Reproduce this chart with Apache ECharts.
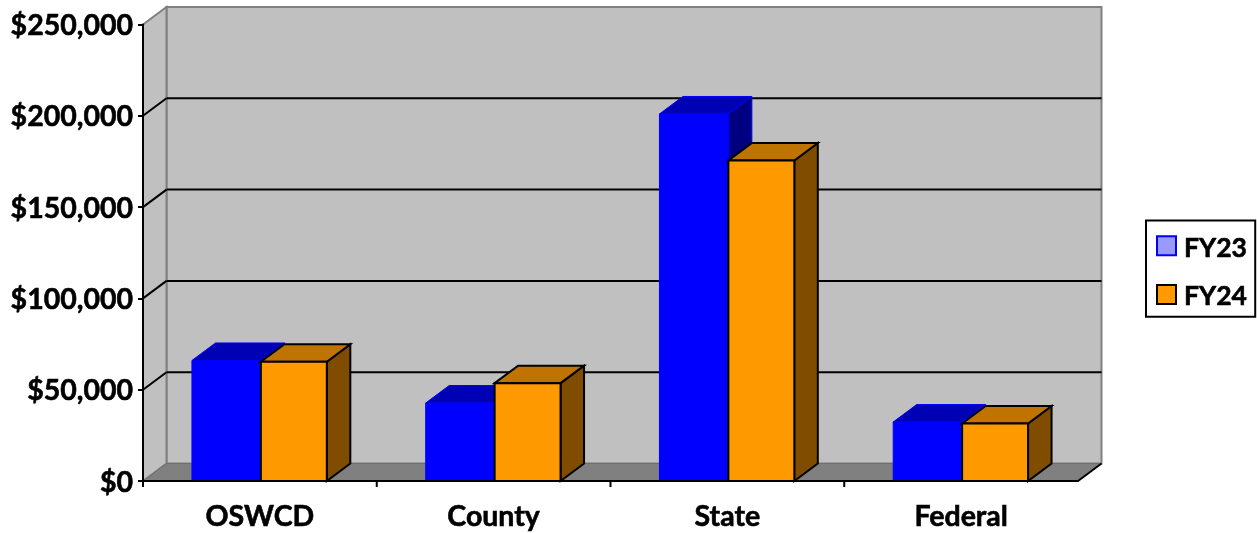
<!DOCTYPE html>
<html><head><meta charset="utf-8">
<style>html,body{margin:0;padding:0;background:#fff}#c{width:1257px;height:533px}</style>
<script src="https://cdn.jsdelivr.net/npm/echarts@6/dist/echarts.min.js"></script>
</head><body><div id="c"></div>
<script>
var categories = ['OSWCD', 'County', 'State', 'Federal'];
var fy23 = [66000, 42700, 201000, 32300];
var fy24 = [65300, 53600, 175500, 31500];
var yTicks = [0, 50000, 100000, 150000, 200000, 250000];

var DX = 23.5, DY = 17.5;

function poly(points, fill, stroke, lw) {
  return { type: 'polygon', shape: { points: points },
    style: { fill: fill, stroke: stroke, lineWidth: lw, lineJoin: 'miter' } };
}
function line(x1, y1, x2, y2, stroke, lw) {
  return { type: 'line', shape: { x1: x1, y1: y1, x2: x2, y2: y2 },
    style: { stroke: stroke, lineWidth: lw } };
}
function frameItem(params, api) {
  var cs = params.coordSys, l = cs.x, r = cs.x + cs.width, t = cs.y, b = cs.y + cs.height;
  var edge = '#808080';
  return { type: 'group', children: [
    poly([[l + DX, t - DY], [r + DX, t - DY], [r + DX, b - DY], [l + DX, b - DY]], '#C0C0C0', edge, 2),
    poly([[l, t], [l + DX, t - DY], [l + DX, b - DY], [l, b]], '#C0C0C0', edge, 2),
    poly([[l, b], [l + DX, b - DY], [r + DX, b - DY], [r, b]], '#808080', '#6e6e6e', 1),
    line(r, b, r + DX, b - DY, '#000', 2)
  ]};
}
function gridItem(params, api) {
  var cs = params.coordSys, p = api.coord([0, api.value(1)]);
  var y = p[1], l = cs.x, r = cs.x + cs.width;
  return { type: 'group', children: [
    line(l, y, l + DX, y - DY, '#000', 2),
    line(l + DX, y - DY, r + DX, y - DY, '#000', 2)
  ]};
}
function tickItem(params, api) {
  var base = api.coord([api.value(0), 0]);
  var x = base[0] - api.size([1, 0])[0] / 2;
  return line(x, base[1], x, base[1] + 6, '#000', 2);
}
function barItem(fromFrac, toFrac, front, top, side, stroke, lw) {
  return function (params, api) {
    var c = api.value(0), top0 = api.coord([c, api.value(1)]), base = api.coord([c, 0]);
    var band = api.size([1, 0])[0];
    var x0 = base[0] + band * fromFrac, x1 = base[0] + band * toFrac, y0 = top0[1], y1 = base[1];
    return { type: 'group', children: [
      poly([[x1, y0], [x1 + DX, y0 - DY], [x1 + DX, y1 - DY], [x1, y1]], side, stroke, lw),
      poly([[x0, y0], [x0 + DX, y0 - DY], [x1 + DX, y0 - DY], [x1, y0]], top, stroke, lw),
      poly([[x0, y0], [x1, y0], [x1, y1], [x0, y1]], front, stroke, lw)
    ]};
  };
}
function rows(vals) { return vals.map(function (v, i) { return [i, v]; }); }

var font = 'Lato, "Open Sans", sans-serif';
var heavy = { fontFamily: font, fontWeight: 'bold', fontSize: 28.5, color: '#000',
  textBorderColor: '#000', textBorderWidth: 0.6 };
var legendText = Object.assign({}, heavy, { fontSize: 26.5, padding: [5, 0, 0, 3] });
var yText = Object.assign({}, heavy, { padding: [3, 0, 0, 0] });
var chart = echarts.init(document.getElementById('c'), null, { renderer: 'canvas' });
chart.setOption({
  animation: false,
  backgroundColor: '#fff',
  grid: { left: 143, top: 24.5, width: 935, height: 456.5, containLabel: false },
  legend: {
    orient: 'vertical', left: 1146, top: 220.5, padding: [14, 8, 6, 10],
    borderColor: '#000', borderWidth: 2, backgroundColor: '#fff',
    itemWidth: 19, itemHeight: 19, itemGap: 21,
    formatter: function (n) { return '{t|' + n + '}'; },
    textStyle: { rich: { t: legendText } },
    data: [
      { name: 'FY23', icon: 'rect', itemStyle: { color: '#9999FF', borderColor: '#0000FF', borderWidth: 2 } },
      { name: 'FY24', icon: 'rect', itemStyle: { color: '#FF9900', borderColor: '#000', borderWidth: 2 } }
    ]
  },
  xAxis: {
    type: 'category', data: categories, z: 6,
    axisLine: { show: true, lineStyle: { color: '#000', width: 2 } },
    axisTick: { show: false },
    axisLabel: Object.assign({ margin: 21, interval: 0 }, heavy),
    splitLine: { show: false }
  },
  yAxis: {
    type: 'value', min: 0, max: 250000, interval: 50000, z: 6,
    axisLine: { show: true, lineStyle: { color: '#000', width: 2 } },
    axisTick: { show: true, length: 5, lineStyle: { color: '#000', width: 2 } },
    axisLabel: { margin: 10, rich: { t: yText },
      formatter: function (v) { return '{t|$' + v.toLocaleString('en-US') + '}'; } },
    splitLine: { show: false }
  },
  series: [
    { type: 'custom', name: 'frame', silent: true, clip: false, z: 1, renderItem: frameItem, data: [[0, 0]] },
    { type: 'custom', name: 'grid', silent: true, clip: false, z: 2, renderItem: gridItem,
      data: yTicks.slice(1, 5).map(function (v) { return [0, v]; }) },
    { type: 'custom', name: 'ticks', silent: true, clip: false, z: 6, renderItem: tickItem,
      data: categories.map(function (c, i) { return [i, 0]; }) },
    { type: 'custom', name: 'FY23', clip: false, z: 3,
      itemStyle: { color: '#9999FF' },
      renderItem: barItem(-68 / 234, 1 / 234, '#0000FF', '#0000B4', '#000080', '#0000FF', 1),
      encode: { x: 0, y: 1 }, data: rows(fy23) },
    { type: 'custom', name: 'FY24', clip: false, z: 4,
      itemStyle: { color: '#FF9900' },
      renderItem: barItem(1 / 234, 67 / 234, '#FF9900', '#BF7300', '#804D00', '#000', 2),
      encode: { x: 0, y: 1 }, data: rows(fy24) }
  ]
});
</script></body></html>
